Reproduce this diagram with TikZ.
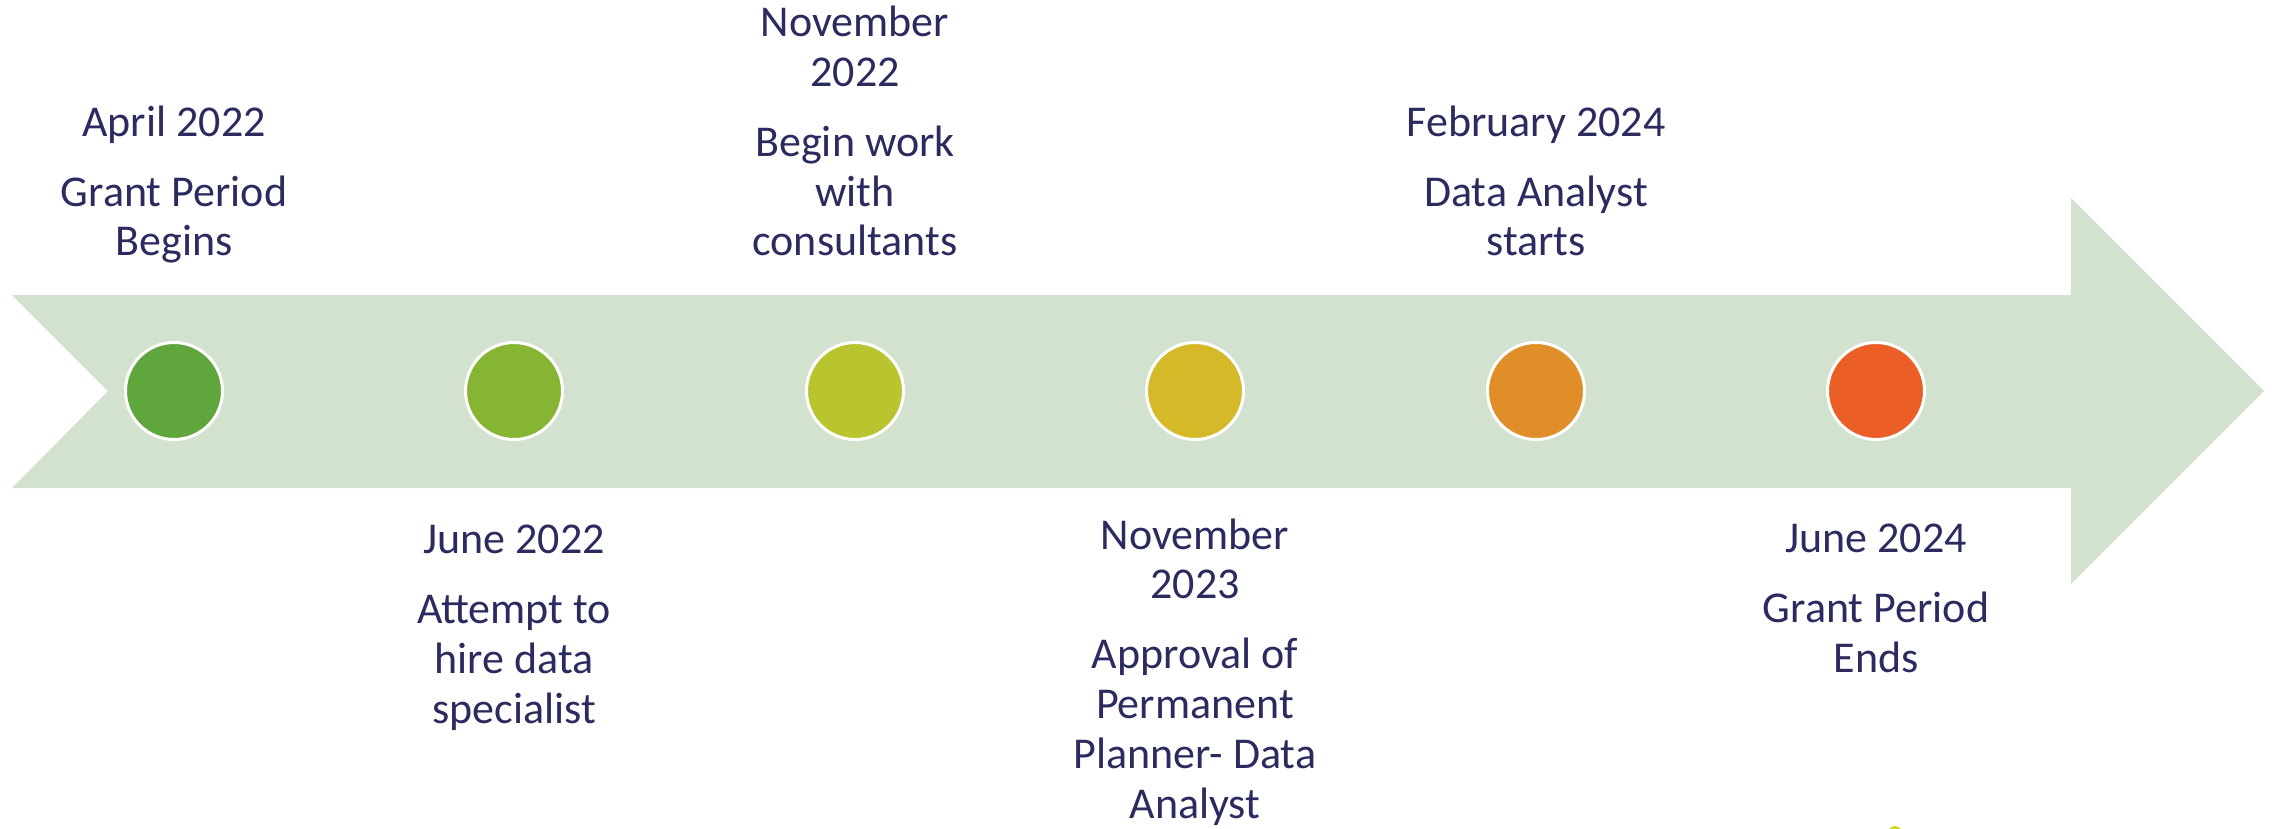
\documentclass[tikz,border=0pt]{standalone}
\usepackage{fontspec}
\setmainfont{Carlito}
\definecolor{band}{HTML}{D3E2CF}
\definecolor{ink}{HTML}{2B2B60}
\definecolor{dotA}{HTML}{5FA63C}
\definecolor{dotB}{HTML}{86B534}
\definecolor{dotC}{HTML}{B8C52E}
\definecolor{dotD}{HTML}{D5B929}
\definecolor{dotE}{HTML}{E08E27}
\definecolor{dotF}{HTML}{EB5E25}
\definecolor{speck}{HTML}{D0D82E}
\begin{document}
\begin{tikzpicture}[x=0.5pt, y=-0.5pt,
  dot/.style={circle, fill=#1, draw=white, line width=1.5pt, minimum size=48.5pt, inner sep=0pt},
  lbl/.style={anchor=base, align=center, text=ink, inner sep=0pt,
    font=\fontsize{22}{24.9}\selectfont}]
\useasboundingbox (0,0) rectangle (2272,829);
\fill [band] (12,295) -- (2071,295) -- (2071,198) -- (2264,391) -- (2071,584)
  -- (2071,488) -- (12,488) -- (108,391) -- cycle;
\node [dot=dotA] (d1) at (174,391) {};
\node [dot=dotB] (d2) at (514,391) {};
\node [dot=dotC] (d3) at (855,391) {};
\node [dot=dotD] (d4) at (1195,391) {};
\node [dot=dotE] (d5) at (1536,391) {};
\node [dot=dotF] (d6) at (1876,391) {};
\node [lbl] (t1) at (174,256) {April 2022\\[10pt]Grant Period\\Begins};
\node [lbl] (t2) at (514,723) {June 2022\\[10pt]Attempt to\\hire data\\specialist};
\node [lbl] (t3) at (855,256) {November\\2022\\[10pt]Begin work\\with\\consultants};
\node [lbl] (t4) at (1195,818) {November\\2023\\[10pt]Approval of\\Permanent\\Planner- Data\\Analyst};
\node [lbl] (t5) at (1536,256) {February 2024\\[10pt]Data Analyst\\starts};
\node [lbl] (t6) at (1876,672) {June 2024\\[10pt]Grant Period\\Ends};
\fill [speck] (1895,833) circle (7);
\end{tikzpicture}
\end{document}
